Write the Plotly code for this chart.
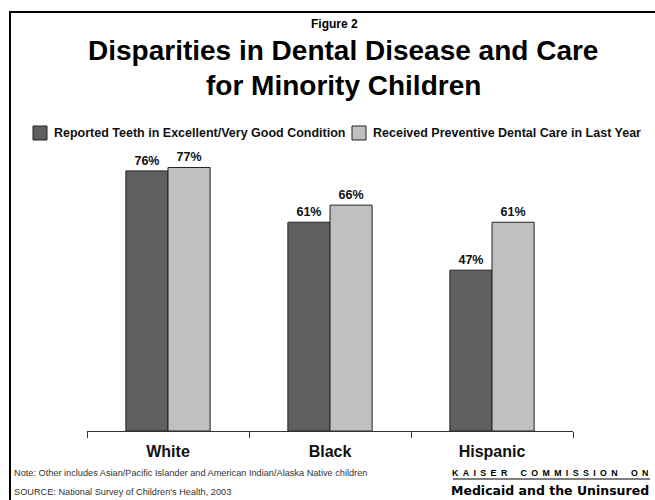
import plotly.graph_objects as go

# Survey data: share of children (%) by race/ethnicity
groups = ["White", "Black", "Hispanic"]
teeth_good = [76, 61, 47]
preventive_care = [77, 66, 61]
series_names = [
    "Reported Teeth in Excellent/Very Good Condition",
    "Received Preventive Dental Care in Last Year",
]
series_colors = ["#606060", "#C0C0C0"]

W, H = 655, 500
L, R, T, B = 87, 82, 123, 69
PW, PH = W - L - R, H - T - B
Y_MAX = 90


def px(x):
    """Pixel x -> paper x."""
    return (x - L) / PW


def py(y):
    """Pixel y (from top) -> paper y."""
    return (H - B - y) / PH


FONT = "Liberation Sans, Arial, Helvetica, sans-serif"
WIDE = "DejaVu Sans, Verdana, sans-serif"

fig = go.Figure()
for name, vals, color in zip(series_names, [teeth_good, preventive_care], series_colors):
    fig.add_trace(go.Bar(
        x=groups, y=vals, name=name,
        marker=dict(color=color, line=dict(color="#222222", width=1)),
        texttemplate="%{y}%", textposition="outside",
        textfont=dict(family=FONT, size=12.5, color="#111111", weight="bold"),
        cliponaxis=False,
    ))

fig.update_layout(
    width=W, height=H,
    margin=dict(l=L, r=R, t=T, b=B, pad=0),
    paper_bgcolor="white", plot_bgcolor="white",
    barmode="group", bargap=0.48, bargroupgap=0,
    showlegend=False,
    font=dict(family=FONT, color="#111111"),
)
fig.update_xaxes(
    showline=True, linecolor="#333333", linewidth=1,
    ticks="outside", tickson="boundaries", ticklen=6, tickcolor="#333333",
    tickfont=dict(family=FONT, size=16, color="#111111", weight="bold"),
    ticklabelstandoff=6, showgrid=False, zeroline=False,
)
fig.update_yaxes(visible=False, range=[0, Y_MAX])

# Slide frame (left and top edges visible)
fig.add_shape(type="rect", xref="paper", yref="paper",
              x0=px(10), y0=py(12), x1=px(W + 40), y1=py(H + 40),
              line=dict(color="#000000", width=2), fillcolor="rgba(0,0,0,0)")


def note(text, x, y, size, anchor="center", family=FONT, color="#000000"):
    fig.add_annotation(text=text, xref="paper", yref="paper", x=px(x), y=py(y),
                       xanchor=anchor, yanchor="middle", showarrow=False,
                       font=dict(family=family, size=size, color=color))


# Headings
note("<b>Figure 2</b>", 334, 24, 12)
note("<b>Disparities in Dental Disease and Care</b>", 343, 51, 28)
note("<b>for Minority Children</b>", 343, 85, 28)

# Legend row: swatch + label per series
legend_y = 133
sw = 14
swatch_x = [33, 352]
for sx, name, color in zip(swatch_x, series_names, series_colors):
    fig.add_shape(type="rect", xref="paper", yref="paper",
                  x0=px(sx), x1=px(sx + sw),
                  y0=py(legend_y - sw / 2), y1=py(legend_y + sw / 2),
                  line=dict(color="#222222", width=1), fillcolor=color)
    note(f"<b>{name}</b>", sx + sw + 5, legend_y, 12.5, anchor="left", color="#111111")

# Footnotes
note("Note: Other includes Asian/Pacific Islander and American Indian/Alaska Native children",
     12, 473, 9.2, anchor="left", color="#333333")
note("SOURCE: National Survey of Children's Health, 2003",
     12, 492, 9.2, anchor="left", color="#333333")

# Kaiser Commission wordmark
sp = "\u2002"
kaiser = (sp.join("KAISER") + sp * 3 + sp.join("COMMISSION") + sp * 3 + sp.join("ON"))
note(f"<b>{kaiser}</b>", 650, 473, 8.8, anchor="right", family=FONT)
fig.add_shape(type="line", xref="paper", yref="paper",
              x0=px(453), x1=px(650), y0=py(479), y1=py(479),
              line=dict(color="#000000", width=1))
note("<b>Medicaid and the Uninsured</b>", 651, 490, 12.5, anchor="right", family=WIDE)

fig.write_html("out.html")
